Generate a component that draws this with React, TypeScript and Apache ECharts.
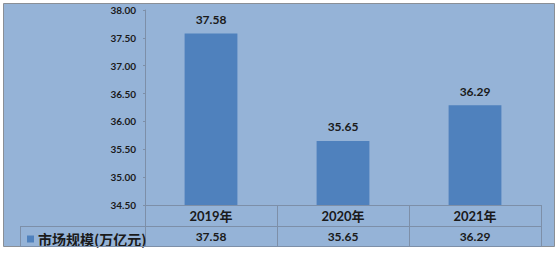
import React, { useEffect, useRef } from "react";
import * as echarts from "echarts";

const categories = ["2019年", "2020年", "2021年"];
const values = [37.58, 35.65, 36.29];
const seriesName = "市场规模(万亿元)";
const yMin = 34.5;
const yMax = 38;
const yInterval = 0.5;

export default function App() {
  const ref = useRef<HTMLDivElement>(null);
  useEffect(() => {
    document.body.style.margin = "0";
    const chart = echarts.init(ref.current!, undefined, { renderer: "svg" });
    const lineColor = "#7d8fa8";
    const textColor = "#1a1a1a";
    const font = "Lato, 'Noto Sans CJK SC', sans-serif";
    chart.setOption({
      animation: false,
      backgroundColor: "#ffffff",
      graphic: [
        {
          type: "rect",
          z: -10,
          shape: { x: 3.5, y: 3.5, width: 551, height: 243 },
          style: { fill: "#95b3d7", stroke: "#8a8f96", lineWidth: 1 },
        },
        {
          type: "line",
          z: 10,
          shape: { x1: 20, y1: 226.5, x2: 541.5, y2: 226.5 },
          style: { stroke: lineColor, lineWidth: 1 },
        },
        {
          type: "line",
          z: 10,
          shape: { x1: 20, y1: 246.5, x2: 541.5, y2: 246.5 },
          style: { stroke: lineColor, lineWidth: 1 },
        },
        {
          type: "line",
          z: 10,
          shape: { x1: 20.5, y1: 226.5, x2: 20.5, y2: 246.5 },
          style: { stroke: lineColor, lineWidth: 1 },
        },
      ],
      legend: {
        left: 22,
        top: 227,
        itemWidth: 7,
        itemHeight: 7,
        itemGap: 4,
        icon: "rect",
        textStyle: { fontSize: 14, fontWeight: "bold", color: textColor, fontFamily: "'Noto Sans CJK SC', sans-serif", padding: [0, 0, 0, -1] },
        data: [seriesName],
      },
      grid: { left: 145, right: 18, top: 10, bottom: 48 },
      xAxis: [
        {
          type: "category",
          data: categories,
          position: "bottom",
          axisLine: { show: true, lineStyle: { color: lineColor } },
          axisTick: { show: true, length: 41, interval: 0, lineStyle: { color: lineColor } },
          axisLabel: { margin: 4, fontSize: 13, fontWeight: "bold", color: textColor, fontFamily: font },
        },
        {
          type: "category",
          data: values.map((v) => v.toFixed(2)),
          position: "bottom",
          offset: 21,
          axisLine: { show: false },
          axisTick: { show: false },
          axisLabel: { margin: 4, fontSize: 12, fontWeight: "bold", color: textColor, fontFamily: font },
        },
      ],
      yAxis: {
        type: "value",
        min: yMin,
        max: yMax,
        interval: yInterval,
        axisLine: { show: true, lineStyle: { color: lineColor } },
        axisTick: { show: true, length: 2, lineStyle: { color: lineColor } },
        splitLine: { show: false },
        axisLabel: {
          margin: 9,
          fontSize: 10,
          fontWeight: "bold",
          color: textColor,
          fontFamily: font,
          formatter: (v: number) => v.toFixed(2),
        },
      },
      series: [
        {
          name: seriesName,
          type: "bar",
          xAxisIndex: 0,
          data: values,
          barWidth: "40%",
          itemStyle: { color: "#4f81bd" },
          label: {
            show: true,
            position: "top",
            distance: 8,
            fontSize: 12,
            fontWeight: "bold",
            color: textColor,
            fontFamily: font,
            formatter: (p: any) => Number(p.value).toFixed(2),
          },
        },
      ],
    });
    return () => chart.dispose();
  }, []);
  return <div ref={ref} style={{ position: "fixed", left: 0, top: 0, width: 559, height: 253 }} />;
}
